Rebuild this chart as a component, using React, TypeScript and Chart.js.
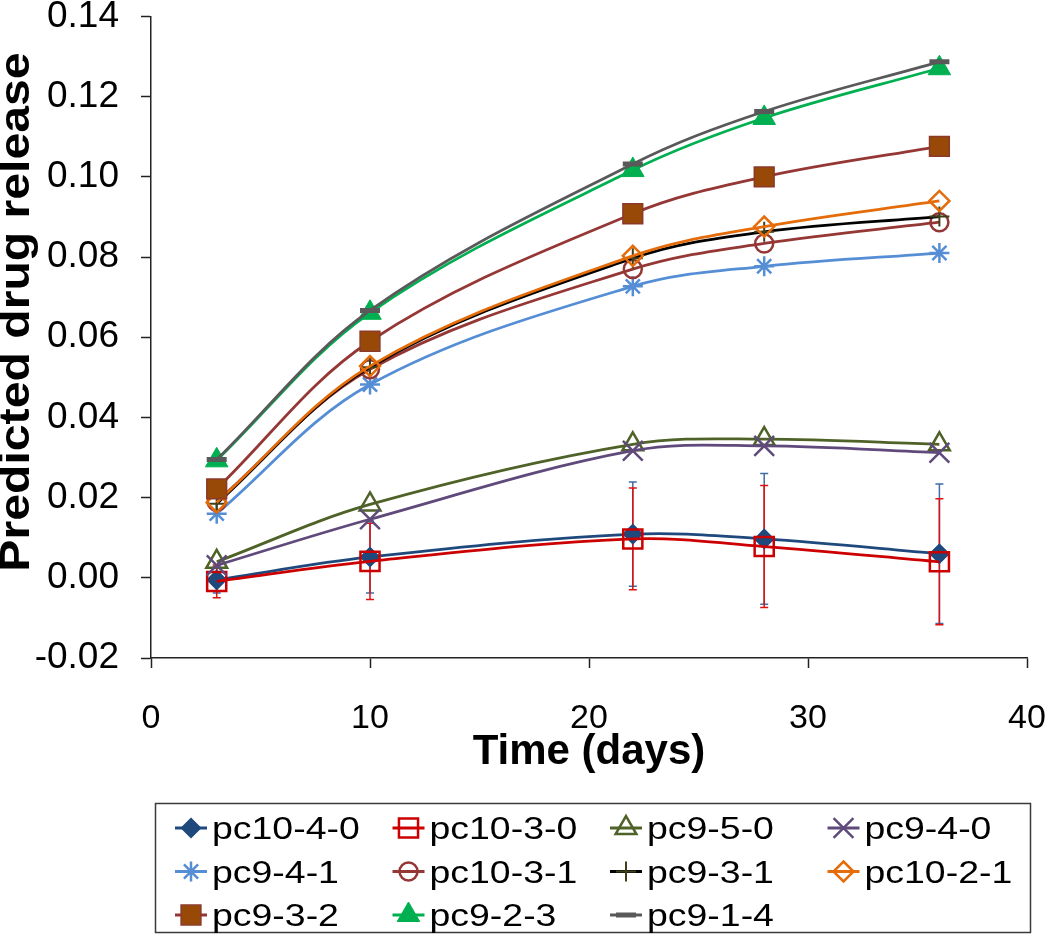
import React, { useEffect, useRef } from 'react';
import { Chart, registerables } from 'chart.js';

Chart.register(...registerables);

const FONT = '"Liberation Sans", Arial, Helvetica, sans-serif';

// ---- data ----
const days = [3, 10, 22, 28, 36];
const seriesNames = ['pc10-4-0', 'pc10-3-0', 'pc9-5-0', 'pc9-4-0', 'pc9-4-1', 'pc10-3-1', 'pc9-3-1', 'pc10-2-1', 'pc9-3-2', 'pc9-2-3', 'pc9-1-4'];
const pc10_4_0 = [-0.0005, 0.0052, 0.0109, 0.0097, 0.006];
const pc10_3_0 = [-0.0009, 0.0041, 0.0097, 0.0078, 0.004];
const pc9_5_0 = [0.004, 0.0183, 0.0333, 0.0346, 0.0333];
const pc9_4_0 = [0.0031, 0.0146, 0.0317, 0.0329, 0.0312];
const pc9_4_1 = [0.016, 0.0482, 0.0727, 0.0777, 0.081];
const pc10_3_1 = [0.019, 0.052, 0.077, 0.0834, 0.0887];
const pc9_3_1 = [0.0185, 0.0525, 0.0797, 0.0863, 0.0901];
const pc10_2_1 = [0.0188, 0.0528, 0.0803, 0.0876, 0.094];
const pc9_3_2 = [0.0222, 0.059, 0.0908, 0.1, 0.1076];
const pc9_2_3 = [0.0293, 0.0661, 0.1017, 0.1147, 0.1271];
const pc9_1_4 = [0.0295, 0.0667, 0.1032, 0.1163, 0.1287];
const pc10_4_0_err = [0.0033, 0.009, 0.013, 0.0163, 0.0174];
const pc10_3_0_err = [0.0041, 0.0095, 0.0127, 0.0152, 0.0157];

const seriesValues = [pc10_4_0, pc10_3_0, pc9_5_0, pc9_4_0, pc9_4_1, pc10_3_1, pc9_3_1, pc10_2_1, pc9_3_2, pc9_2_3, pc9_1_4];
const seriesErrors: (number[] | null)[] = [pc10_4_0_err, pc10_3_0_err, null, null, null, null, null, null, null, null, null];

const xTickStep = 10;
const yTickStep = 0.02;
const xTitle = 'Time (days)';
const yTitle = 'Predicted drug release';

// ---- styles ----
type Sty = { line: string; style: string; r: number; fill: string; stroke: string; bw: number; err?: string };
const TR = 'rgba(0,0,0,0)';
const styles: Sty[] = [
  { line: '#1F497D', style: 'rectRot', r: 9.5, fill: '#1F497D', stroke: '#1F497D', bw: 1.5, err: '#3E6EA6' },
  { line: '#CC0000', style: 'rect', r: 13.5, fill: TR, stroke: '#CC0000', bw: 2.5, err: '#E01010' },
  { line: '#4F6228', style: 'triangle', r: 12, fill: TR, stroke: '#4F6228', bw: 2.5 },
  { line: '#604A7B', style: 'crossRot', r: 14, fill: TR, stroke: '#604A7B', bw: 2.5 },
  { line: '#558ED5', style: 'star', r: 10, fill: TR, stroke: '#558ED5', bw: 2.5 },
  { line: '#953735', style: 'circle', r: 9, fill: TR, stroke: '#953735', bw: 2.5 },
  { line: '#000000', style: 'cross', r: 10, fill: TR, stroke: '#3F3F1A', bw: 2 },
  { line: '#E46C0A', style: 'rectRot', r: 10, fill: TR, stroke: '#E46C0A', bw: 2.5 },
  { line: '#953735', style: 'rect', r: 14, fill: '#984807', stroke: '#8B3A2A', bw: 1.5 },
  { line: '#00B050', style: 'triangle', r: 13, fill: '#00B050', stroke: '#00B050', bw: 1 },
  { line: '#595959', style: 'line', r: 10, fill: '#595959', stroke: '#595959', bw: 5 },
];

function drawMarker(ctx: CanvasRenderingContext2D, s: Sty, x: number, y: number) {
  const r = s.r;
  ctx.save();
  ctx.fillStyle = s.fill;
  ctx.strokeStyle = s.stroke;
  ctx.lineWidth = s.bw;
  ctx.beginPath();
  let fillable = true;
  switch (s.style) {
    case 'circle':
      ctx.arc(x, y, r, 0, Math.PI * 2);
      break;
    case 'rect': {
      const h = r * Math.SQRT1_2;
      ctx.rect(x - h, y - h, 2 * h, 2 * h);
      break;
    }
    case 'rectRot':
      ctx.moveTo(x, y - r); ctx.lineTo(x + r, y); ctx.lineTo(x, y + r); ctx.lineTo(x - r, y); ctx.closePath();
      break;
    case 'triangle':
      ctx.moveTo(x, y - r); ctx.lineTo(x + r * 0.866, y + r * 0.5); ctx.lineTo(x - r * 0.866, y + r * 0.5); ctx.closePath();
      break;
    case 'cross':
      fillable = false;
      ctx.moveTo(x, y - r); ctx.lineTo(x, y + r); ctx.moveTo(x - r, y); ctx.lineTo(x + r, y);
      break;
    case 'crossRot': {
      fillable = false;
      const h = r * Math.SQRT1_2;
      ctx.moveTo(x - h, y - h); ctx.lineTo(x + h, y + h); ctx.moveTo(x + h, y - h); ctx.lineTo(x - h, y + h);
      break;
    }
    case 'star': {
      fillable = false;
      const h = r * Math.SQRT1_2;
      ctx.moveTo(x, y - r); ctx.lineTo(x, y + r); ctx.moveTo(x - r, y); ctx.lineTo(x + r, y);
      ctx.moveTo(x - h, y - h); ctx.lineTo(x + h, y + h); ctx.moveTo(x + h, y - h); ctx.lineTo(x - h, y + h);
      break;
    }
    case 'line':
      fillable = false;
      ctx.moveTo(x - r, y); ctx.lineTo(x + r, y);
      break;
  }
  if (fillable) ctx.fill();
  ctx.stroke();
  ctx.restore();
}

const errorBarsPlugin = {
  id: 'errorBars',
  beforeDatasetsDraw(chart: any) {
    const ctx = chart.ctx as CanvasRenderingContext2D;
    const ys = chart.scales.y;
    chart.data.datasets.forEach((ds: any, i: number) => {
      const errs = seriesErrors[i];
      if (!errs) return;
      const meta = chart.getDatasetMeta(i);
      ctx.save();
      ctx.strokeStyle = styles[i].err || styles[i].line;
      ctx.lineWidth = 1.5;
      meta.data.forEach((pt: any, j: number) => {
        const v = seriesValues[i][j];
        const e = errs[j];
        const x = pt.x;
        const t = ys.getPixelForValue(v + e);
        const b = ys.getPixelForValue(v - e);
        ctx.beginPath();
        ctx.moveTo(x, t); ctx.lineTo(x, b);
        ctx.moveTo(x - 4, t); ctx.lineTo(x + 4, t);
        ctx.moveTo(x - 4, b); ctx.lineTo(x + 4, b);
        ctx.stroke();
      });
      ctx.restore();
    });
  },
};

const extrasPlugin = {
  id: 'extras',
  afterDraw(chart: any) {
    const ctx = chart.ctx as CanvasRenderingContext2D;
    // y axis title
    ctx.save();
    ctx.fillStyle = '#000';
    ctx.font = `bold 43px ${FONT}`;
    ctx.textAlign = 'center';
    ctx.textBaseline = 'middle';
    ctx.translate(17, 312);
    ctx.rotate(-Math.PI / 2);
    ctx.scale(1.12, 1);
    ctx.fillText(yTitle, 0, 0);
    ctx.restore();

    // legend
    ctx.save();
    ctx.strokeStyle = '#3a3a3a';
    ctx.lineWidth = 1.5;
    ctx.strokeRect(155.5, 803.5, 875, 129);
    seriesNames.forEach((name, i) => {
      const col = i % 4;
      const row = Math.floor(i / 4);
      const x0 = 175 + col * 217.5;
      const cy = 828 + row * 43.5;
      const s = styles[i];
      ctx.save();
      ctx.strokeStyle = s.line;
      ctx.lineWidth = 3;
      ctx.beginPath();
      ctx.moveTo(x0, cy); ctx.lineTo(x0 + 32, cy);
      ctx.stroke();
      ctx.restore();
      drawMarker(ctx, s, x0 + 16, cy);
      ctx.save();
      ctx.fillStyle = '#000';
      ctx.font = `32px ${FONT}`;
      ctx.textAlign = 'left';
      ctx.textBaseline = 'alphabetic';
      ctx.translate(x0 + 37, cy + 11.4);
      ctx.scale(1.17, 1);
      ctx.fillText(name, 0, 0);
      ctx.restore();
    });
    ctx.restore();
  },
};

export default function App() {
  const ref = useRef<HTMLCanvasElement | null>(null);
  useEffect(() => {
    if (!ref.current) return;
    const datasets = seriesNames.map((name, i) => {
      const s = styles[i];
      return {
        label: name,
        data: days.map((d, j) => ({ x: d, y: seriesValues[i][j] })),
        borderColor: s.line,
        backgroundColor: s.fill,
        borderWidth: 2.75,
        tension: 0.35,
        fill: false,
        pointStyle: s.style,
        pointRadius: s.r,
        pointHoverRadius: s.r,
        pointBackgroundColor: s.fill,
        pointBorderColor: s.stroke,
        pointBorderWidth: s.bw,
        order: seriesNames.length - i,
      };
    });
    const chart = new Chart(ref.current, {
      type: 'line',
      data: { datasets },
      plugins: [errorBarsPlugin, extrasPlugin],
      options: {
        responsive: false,
        animation: false,
        layout: { padding: { left: 0, top: 14, right: 23, bottom: 147 } },
        plugins: { legend: { display: false }, tooltip: { enabled: false } },
        scales: {
          x: {
            type: 'linear',
            min: 0,
            max: 40,
            ticks: { stepSize: xTickStep, color: '#000', font: { family: FONT, size: 34 }, padding: 30, maxRotation: 0, autoSkip: false },
            grid: { drawOnChartArea: false, drawTicks: true, tickLength: 10, tickWidth: 1.5, tickColor: '#222' },
            border: { color: '#222', width: 1.5 },
            title: { display: true, text: xTitle, color: '#000', font: { family: FONT, size: 42, weight: 'bold' }, padding: { top: 0, bottom: 10 } },
            afterFit: (s: any) => { s.height = 130; s.paddingLeft = 0; s.paddingRight = 0; },
          },
          y: {
            type: 'linear',
            min: -0.02,
            max: 0.14,
            ticks: { stepSize: yTickStep, color: '#000', font: { family: FONT, size: 37 }, padding: 22, callback: (v: any) => Number(v).toFixed(2) },
            grid: { drawOnChartArea: false, drawTicks: true, tickLength: 10, tickWidth: 1.5, tickColor: '#222' },
            border: { color: '#222', width: 1.5 },
            afterFit: (s: any) => { s.width = 151; s.paddingTop = 0; s.paddingBottom = 0; },
          },
        },
      } as any,
    });
    return () => chart.destroy();
  }, []);
  return (
    <div style={{ position: 'fixed', left: 0, top: 0, width: 1050, height: 935, background: '#fff' }}>
      <canvas ref={ref} width={1050} height={935} />
    </div>
  );
}
